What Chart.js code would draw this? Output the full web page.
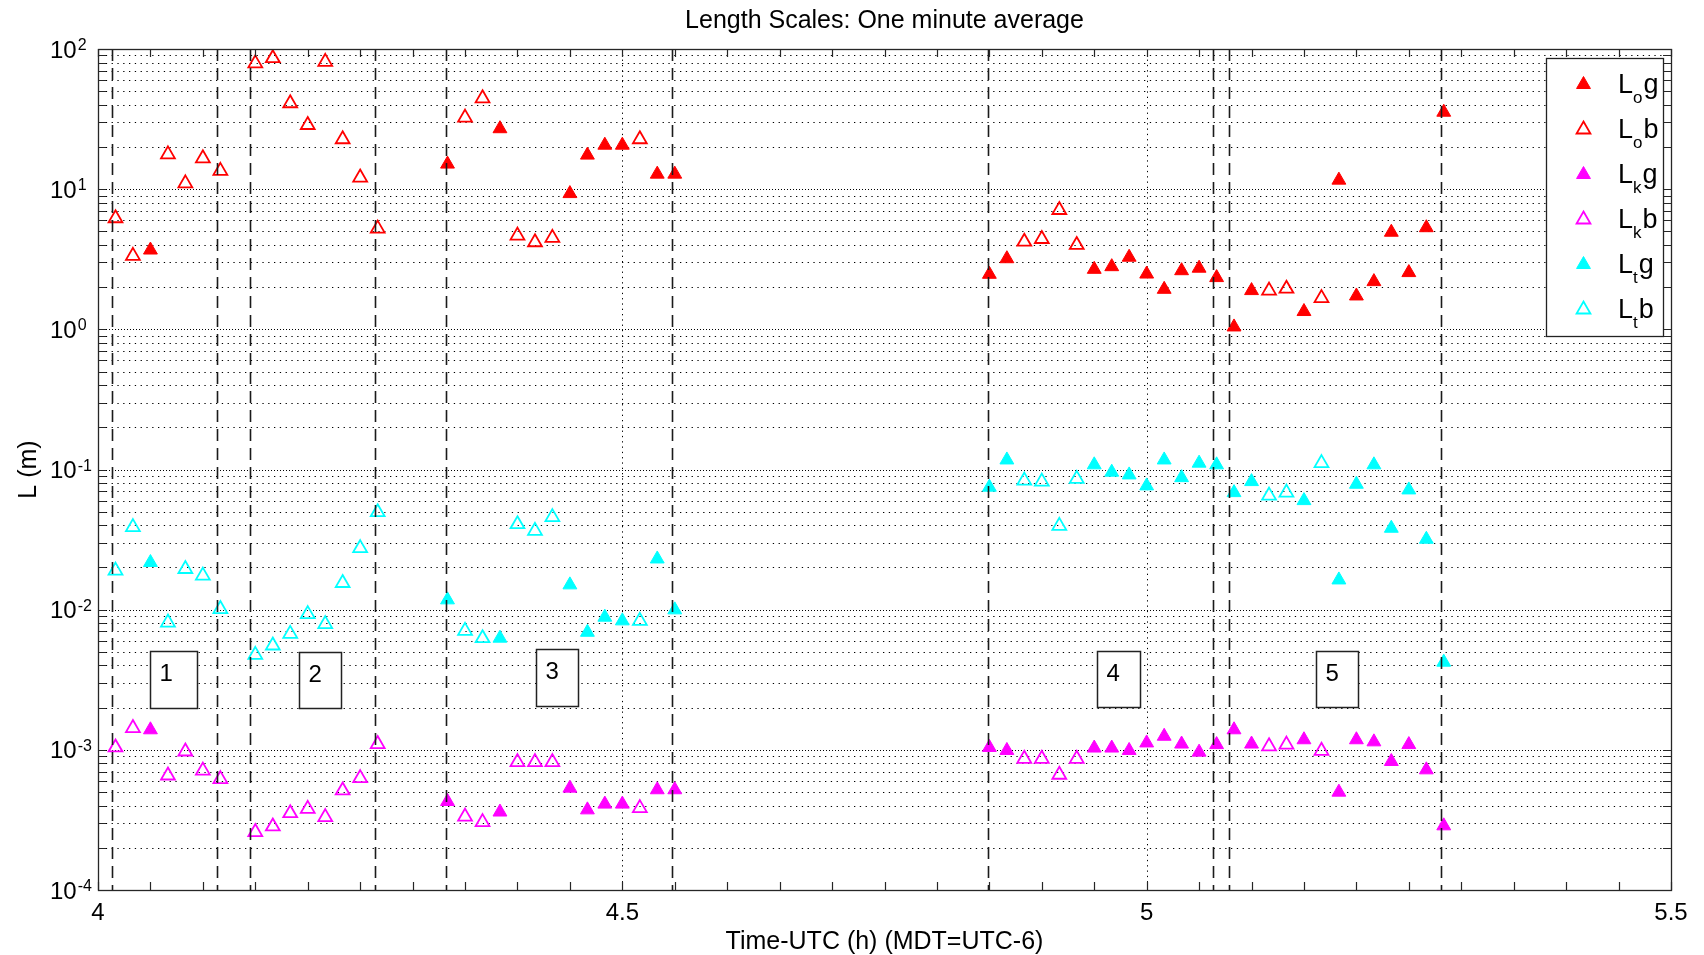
<!DOCTYPE html>
<html><head><meta charset="utf-8">
<script src="https://cdn.jsdelivr.net/npm/chart.js@4.4.1/dist/chart.umd.min.js"></script>
<style>html,body{margin:0;padding:0;background:#fff;overflow:hidden}canvas{display:block}</style>
</head><body>
<canvas id="c" width="1704" height="955"></canvas>
<script>
// ---------------- DATA ----------------
const chartTitle = 'Length Scales: One minute average';
const xAxisTitle = 'Time-UTC (h) (MDT=UTC-6)';
const yAxisTitle = 'L (m)';

// time of each one-minute average (h, UTC)
const timeUTC = [
  4.0167, 4.0333, 4.0500, 4.0667, 4.0833, 4.1000, 4.1167,
  4.1500, 4.1667, 4.1833, 4.2000, 4.2167, 4.2333, 4.2500, 4.2667,
  4.3333, 4.3500, 4.3667, 4.3833, 4.4000, 4.4167, 4.4333, 4.4500, 4.4667, 4.4833, 4.5000, 4.5167, 4.5333, 4.5500,
  4.8500, 4.8667, 4.8833, 4.9000, 4.9167, 4.9333, 4.9500, 4.9667, 4.9833, 5.0000, 5.0167, 5.0333, 5.0500, 5.0667,
  5.0833, 5.1000, 5.1167, 5.1333, 5.1500, 5.1667, 5.1833, 5.2000, 5.2167, 5.2333, 5.2500, 5.2667, 5.2833
];
// g = good, b = bad
const quality = [
  'b','b','g','b','b','b','b',
  'b','b','b','b','b','b','b','b',
  'g','b','b','g','b','b','b','g','g','g','g','b','g','g',
  'g','g','b','b','b','b','g','g','g','g','g','g','g','g',
  'g','g','b','b','g','b','g','g','g','g','g','g','g'
];
const Lo = [
  6.2, 3.34, 3.68, 17.7, 11.0, 16.6, 13.5,
  79, 86, 41, 28.7, 81, 22.7, 12.1, 5.23,
  15.1, 32.4, 44.5, 27.0, 4.66, 4.18, 4.49, 9.3, 17.5, 20.6, 20.6, 22.7, 12.8, 12.8,
  2.47, 3.19, 4.22, 4.41, 7.1, 4.0, 2.68, 2.80, 3.27, 2.48, 1.93, 2.62, 2.73, 2.34,
  1.04, 1.89, 1.89, 1.95, 1.34, 1.67, 11.6, 1.73, 2.19, 4.93, 2.54, 5.31, 35.4
];
const Lk = [
  0.00104, 0.00143, 0.00139, 0.000656, 0.000973, 0.000711, 0.000618,
  0.000259, 0.000284, 0.000353, 0.000379, 0.000331, 0.000513, 0.000628, 0.0011,
  0.000428, 0.000334, 0.000305, 0.000360, 0.000817, 0.000817, 0.000817, 0.000533, 0.000373, 0.00041, 0.00041, 0.000384, 0.000519, 0.000519,
  0.00104, 0.00099, 0.000863, 0.000863, 0.000664, 0.000863, 0.00103, 0.00103, 0.00099, 0.00112, 0.00125, 0.0011, 0.000963, 0.00109,
  0.00139, 0.0011, 0.00106, 0.00109, 0.00118, 0.000984, 0.000499, 0.00118, 0.00114, 0.000826, 0.00109, 0.00072, 0.000287
];
const Lt = [
  0.0190, 0.0388, 0.0217, 0.00809, 0.0195, 0.0175, 0.0101,
  0.00476, 0.00555, 0.00672, 0.00929, 0.00788, 0.0155, 0.0275, 0.0496,
  0.01175, 0.00706, 0.00626, 0.00626, 0.0407, 0.0365, 0.0457, 0.01503, 0.0069, 0.00884, 0.00832, 0.00832, 0.0230, 0.00997,
  0.0748, 0.117, 0.0833, 0.082, 0.0396, 0.0857, 0.108, 0.0957, 0.0915, 0.0764, 0.117, 0.0875, 0.111, 0.108,
  0.0684, 0.082, 0.0651, 0.0684, 0.060, 0.111, 0.0163, 0.0785, 0.108, 0.0381, 0.0715, 0.0318, 0.00422
];

// dashed lines bounding the analysis periods (h)
const regionBounds = [4.0131, 4.1135, 4.1445, 4.2641, 4.3323, 4.5471, 4.8490, 5.0635, 5.0788, 5.2807];
// period label boxes
const regionLabels   = ['1', '2', '3', '4', '5'];
const regionBoxLeft  = [4.0496, 4.1917, 4.4177, 4.9524, 5.1615];
const regionBoxRight = [4.0947, 4.2314, 4.4580, 4.9936, 5.2018];
const regionBoxTop    = [0.0051, 0.0050, 0.0052, 0.0051, 0.0051];
const regionBoxBottom = [0.0020, 0.0020, 0.00206, 0.00202, 0.00202];

const xTickValues = [4, 4.5, 5, 5.5];
const xTickLabels = ['4', '4.5', '5', '5.5'];
const yDecadeExponents = [-4, -3, -2, -1, 0, 1, 2];

// legend
const legendSub    = ['o', 'o', 'k', 'k', 't', 't'];
const legendSuffix = ['g', 'b', 'g', 'b', 'g', 'b'];

// ---------------- BUILD ----------------
const RED = '#ff0000', MAG = '#ff00ff', CYA = '#00ffff';
function pick(vals, q) {
  const out = [];
  for (let i = 0; i < timeUTC.length; i++) if (quality[i] === q) out.push({x: timeUTC[i], y: vals[i]});
  return out;
}
function ds(label, data, color, filled) {
  return {
    label, data,
    pointStyle: 'triangle', pointRadius: 8, pointHoverRadius: 8,
    backgroundColor: filled ? color : 'rgba(0,0,0,0)',
    borderColor: color, borderWidth: filled ? 1 : 1.8,
    showLine: false
  };
}
const datasets = [
  ds('Log', pick(Lo, 'g'), RED, true),
  ds('Lob', pick(Lo, 'b'), RED, false),
  ds('Lkg', pick(Lk, 'g'), MAG, true),
  ds('Lkb', pick(Lk, 'b'), MAG, false),
  ds('Ltg', pick(Lt, 'g'), CYA, true),
  ds('Ltb', pick(Lt, 'b'), CYA, false)
];
const legendColors = [RED, RED, MAG, MAG, CYA, CYA];
const legendFilled = [true, false, true, false, true, false];

const FONT = '"Liberation Sans", Arial, Helvetica, sans-serif';

function tri(c, x, y, r, color, filled, lw) {
  c.beginPath();
  c.moveTo(x, y - r);
  c.lineTo(x + r * 0.866, y + r * 0.5);
  c.lineTo(x - r * 0.866, y + r * 0.5);
  c.closePath();
  if (filled) { c.fillStyle = color; c.fill(); }
  c.strokeStyle = color; c.lineWidth = lw; c.stroke();
}

const gridPlugin = {
  id: 'bggrid',
  beforeDraw(chart) {
    const c = chart.ctx;
    c.save(); c.fillStyle = '#fff'; c.fillRect(0, 0, chart.width, chart.height); c.restore();
  },
  beforeDatasetsDraw(chart) {
    const c = chart.ctx, a = chart.chartArea, x = chart.scales.x, y = chart.scales.y;
    c.save();
    c.lineWidth = 1; c.strokeStyle = '#000';
    for (const k of yDecadeExponents) {
      if (k >= 2) continue;
      for (let m = 1; m <= 9; m++) {
        const v = m * Math.pow(10, k);
        if (v <= 1e-4 * 1.0001) continue;
        const py = Math.round(y.getPixelForValue(v)) + 0.5;
        c.setLineDash(m === 1 ? [1, 2] : [1.3, 4.5]);
        c.beginPath(); c.moveTo(a.left + 2, py); c.lineTo(a.right, py); c.stroke();
      }
    }
    c.setLineDash([1.3, 4]);
    for (const v of xTickValues) {
      if (v <= 4 || v >= 5.5) continue;
      const px = Math.round(x.getPixelForValue(v)) + 0.5;
      c.beginPath(); c.moveTo(px, a.top); c.lineTo(px, a.bottom); c.stroke();
    }
    c.restore();
  },
  afterDatasetsDraw(chart) {
    const c = chart.ctx, a = chart.chartArea, x = chart.scales.x, y = chart.scales.y;
    c.save();
    // dashed period lines
    c.strokeStyle = '#1a1a1a'; c.lineWidth = 1.6; c.setLineDash([12, 7]);
    for (const v of regionBounds) {
      const px = Math.round(x.getPixelForValue(v)) + 0.5;
      c.beginPath(); c.moveTo(px, a.top); c.lineTo(px, a.bottom); c.stroke();
    }
    c.setLineDash([]);
    // label boxes
    for (let i = 0; i < regionLabels.length; i++) {
      const l = Math.round(x.getPixelForValue(regionBoxLeft[i])) + 0.5;
      const r = Math.round(x.getPixelForValue(regionBoxRight[i])) + 0.5;
      const t = Math.round(y.getPixelForValue(regionBoxTop[i])) + 0.5;
      const b = Math.round(y.getPixelForValue(regionBoxBottom[i])) + 0.5;
      c.fillStyle = '#fff'; c.fillRect(l, t, r - l, b - t);
      c.strokeStyle = '#222'; c.lineWidth = 1.5; c.strokeRect(l, t, r - l, b - t);
      c.fillStyle = '#000'; c.font = '24px ' + FONT;
      c.textAlign = 'left'; c.textBaseline = 'alphabetic';
      c.fillText(regionLabels[i], l + 9, t + 29);
    }
    c.restore();
  },
  afterDraw(chart) {
    const c = chart.ctx, a = chart.chartArea, x = chart.scales.x, y = chart.scales.y;
    c.save();
    // axes box
    c.strokeStyle = '#262626'; c.lineWidth = 1.3; c.setLineDash([]);
    c.strokeRect(a.left + 0.5, a.top + 0.5, a.right - a.left, a.bottom - a.top);
    // x ticks (every 0.05 h), inward on bottom and top
    c.lineWidth = 1.2;
    for (let i = 0; i <= 30; i++) {
      const px = Math.round(x.getPixelForValue(4 + i * 0.05)) + 0.5;
      c.beginPath();
      c.moveTo(px, a.bottom); c.lineTo(px, a.bottom - 8);
      c.moveTo(px, a.top); c.lineTo(px, a.top + 8);
      c.stroke();
    }
    // y ticks (log, major + minor), inward on left and right
    for (const k of yDecadeExponents) {
      for (let m = 1; m <= 9; m++) {
        const v = m * Math.pow(10, k);
        if (v > 100.001) break;
        const py = Math.round(y.getPixelForValue(v)) + 0.5;
        const len = 8;
        c.beginPath();
        c.moveTo(a.left, py); c.lineTo(a.left + len, py);
        c.moveTo(a.right, py); c.lineTo(a.right - len, py);
        c.stroke();
      }
    }
    // x tick labels
    c.fillStyle = '#000';
    c.font = '24px ' + FONT; c.textAlign = 'center'; c.textBaseline = 'alphabetic';
    for (let i = 0; i < xTickValues.length; i++) {
      c.fillText(xTickLabels[i], x.getPixelForValue(xTickValues[i]), a.bottom + 30);
    }
    // y tick labels 10^k
    for (const k of yDecadeExponents) {
      const py = y.getPixelForValue(Math.pow(10, k));
      c.font = '24px ' + FONT; c.textAlign = 'left';
      c.fillText('10', 50, py + 8.5);
      const w = c.measureText('10').width;
      c.font = '16px ' + FONT;
      c.fillText(String(k), 50 + w + 1, py + 1);
    }
    // axis titles
    c.font = '25px ' + FONT; c.textAlign = 'center';
    c.fillText(xAxisTitle, (a.left + a.right) / 2, 949);
    c.fillText(chartTitle, (a.left + a.right) / 2, 28);
    c.save();
    c.translate(29, (a.top + a.bottom) / 2);
    c.rotate(-Math.PI / 2);
    c.textBaseline = 'middle';
    c.fillText(yAxisTitle, 0, 0);
    c.restore();
    // legend
    const lx = 1546, ly = 58, lw = 117, lh = 278;
    c.fillStyle = '#fff'; c.fillRect(lx, ly, lw, lh);
    c.strokeStyle = '#222'; c.lineWidth = 1.3; c.strokeRect(lx + 0.5, ly + 0.5, lw, lh);
    for (let i = 0; i < datasets.length; i++) {
      const cy = 84.5 + i * 45;
      tri(c, 1583.5, cy, 8, legendColors[i], legendFilled[i], legendFilled[i] ? 1 : 1.8);
      c.fillStyle = '#000'; c.textAlign = 'left'; c.textBaseline = 'alphabetic';
      c.font = '27px ' + FONT;
      let tx = 1618;
      c.fillText('L', tx, cy + 8);
      tx += c.measureText('L').width;
      c.font = '17px ' + FONT;
      c.fillText(legendSub[i], tx, cy + 18);
      tx += c.measureText(legendSub[i]).width + 1;
      c.font = '27px ' + FONT;
      c.fillText(legendSuffix[i], tx, cy + 8);
    }
    c.restore();
  }
};

new Chart(document.getElementById('c').getContext('2d'), {
  type: 'scatter',
  data: { datasets },
  options: {
    responsive: false, animation: false, devicePixelRatio: 1, events: [],
    layout: { padding: { left: 0, right: 33, top: 49, bottom: 0 } },
    plugins: { legend: { display: false }, title: { display: false }, tooltip: { enabled: false } },
    scales: {
      x: { type: 'linear', min: 4, max: 5.5,
           grid: { display: false }, border: { display: false }, ticks: { display: false },
           afterFit(s) { s.height = 65; } },
      y: { type: 'logarithmic', min: 1e-4, max: 100,
           grid: { display: false }, border: { display: false }, ticks: { display: false },
           afterFit(s) { s.width = 98; } }
    }
  },
  plugins: [gridPlugin]
});
</script>
</body></html>
